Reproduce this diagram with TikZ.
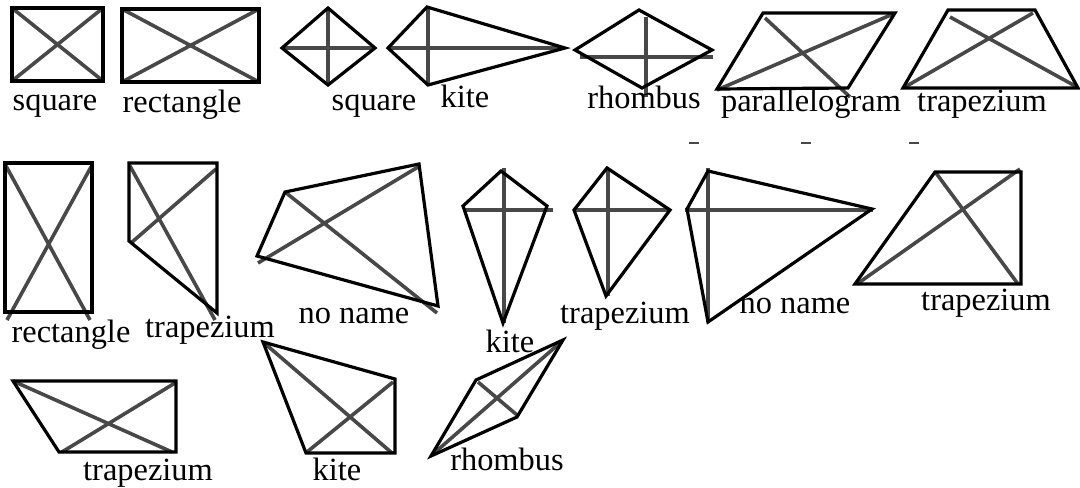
\documentclass[tikz,border=0pt]{standalone}
\usepackage{fontspec}
\setmainfont{Liberation Serif}
\newfontfamily\lblfont{Liberation Serif}
\usepackage{tikz}

\definecolor{diaggray}{HTML}{484848}
\tikzset{
  outline/.style={line width=1.6pt, line join=miter},
  diag/.style={line width=1.8pt, draw=diaggray},
  tick/.style={line width=0.9pt, draw=diaggray},
  lbl/.style={anchor=base, inner sep=0pt, font=\lblfont\fontsize{16.2}{19}\selectfont},
}

\begin{document}
\begin{tikzpicture}[x=0.5pt, y=-0.5pt]
\useasboundingbox (0,0) rectangle (1080,487);
% first row
\draw[diag] (12,8) -- (103,81) (12,81) -- (103,8);
\draw[outline] (12,8) rectangle (103,81);
\node[lbl] (sq1) at (55,110) {square};
\draw[diag] (122,9) -- (259,82) (122,82) -- (259,9);
\draw[outline] (122,9) rectangle (259,82);
\node[lbl] (rect1) at (182,112) {rectangle};
\draw[diag] (282,48) -- (375,48) (328,8) -- (328,85);
\draw[outline] (282,48) -- (328,8) -- (375,48) -- (328,85) -- cycle;
\node[lbl] (sq2) at (374,110) {square};
\draw[diag] (388,48) -- (565,48) (428,7) -- (428,85);
\draw[outline] (388,48) -- (427,7) -- (565,48) -- (428,85) -- cycle;
\node[lbl] (kite1) at (465,107) {kite};
\draw[diag] (580,57) -- (713,57) (646,17) -- (646,97);
\draw[outline] (575,50) -- (639,10) -- (712,50) -- (642,88) -- cycle;
\node[lbl] (rho1) at (644,108) {rhombus};
\draw[diag] (765,18) -- (850,97) (717,90) -- (893,14);
\draw[outline] (763,13) -- (895,13) -- (848,88) -- (717,89) -- cycle;
\node[lbl] (para) at (811,111) {parallelogram};
\draw[diag] (950,17) -- (1077,87) (905,87) -- (1033,13);
\draw[outline] (948,10) -- (1035,10) -- (1078,88) -- (903,88) -- cycle;
\node[lbl] (trap1) at (982,111) {trapezium};
\foreach \tx in {694,806,914}
  \draw[tick] (\tx-5,143) -- (\tx+5,143);
% second row
\draw[diag] (6,166) -- (90,320) (7,320) -- (91,167);
\draw[outline] (5,163) rectangle (92,312);
\node[lbl] (rect2) at (71,342) {rectangle};
\draw[diag] (130,166) -- (215,320) (131,243) -- (216,169);
\draw[outline] (129,163) -- (217,163) -- (217,313) -- (129,241) -- cycle;
\node[lbl] (trap2) at (210,337) {trapezium};
\draw[diag] (285,192) -- (437,313) (258,263) -- (418,167);
\draw[outline] (285,192) -- (419,164) -- (438,306) -- (257,256) -- cycle;
\node[lbl] (nn1) at (354,323) {no name};
\draw[diag] (504,168) -- (504,323) (463,210) -- (553,210);
\draw[outline] (501,171) -- (547,206) -- (503,323) -- (463,206) -- cycle;
\node[lbl] (kite2) at (510,352) {kite};
\draw[diag] (608,168) -- (608,296) (574,210) -- (670,210);
\draw[outline] (607,168) -- (670,210) -- (606,296) -- (574,210) -- cycle;
\node[lbl] (trap3) at (625,323) {trapezium};
\draw[diag] (708,168) -- (708,322) (685,210) -- (873,210);
\draw[outline] (708,171) -- (872,209) -- (708,322) -- (687,209) -- cycle;
\node[lbl] (nn2) at (795,313) {no name};
\draw[diag] (936,173) -- (1018,284) (857,284) -- (1020,169);
\draw[outline] (935,172) -- (1021,172) -- (1021,284) -- (855,284) -- cycle;
\node[lbl] (trap4) at (986,310) {trapezium};
% third row
\draw[diag] (13,381) -- (172,452) (62,452) -- (175,383);
\draw[outline] (13,381) -- (176,381) -- (176,452) -- (59,452) -- cycle;
\node[lbl] (trap5) at (148,480) {trapezium};
\draw[diag] (263,342) -- (392,453) (307,452) -- (393,382);
\draw[outline] (263,342) -- (395,379) -- (395,453) -- (306,453) -- cycle;
\node[lbl] (kite3) at (337,480) {kite};
\draw[diag] (432,455) -- (561,342) (478,382) -- (517,415);
\draw[outline] (431,456) -- (476,380) -- (563,340) -- (517,417) -- cycle;
\node[lbl] (rho2) at (507,470) {rhombus};
\end{tikzpicture}
\end{document}
